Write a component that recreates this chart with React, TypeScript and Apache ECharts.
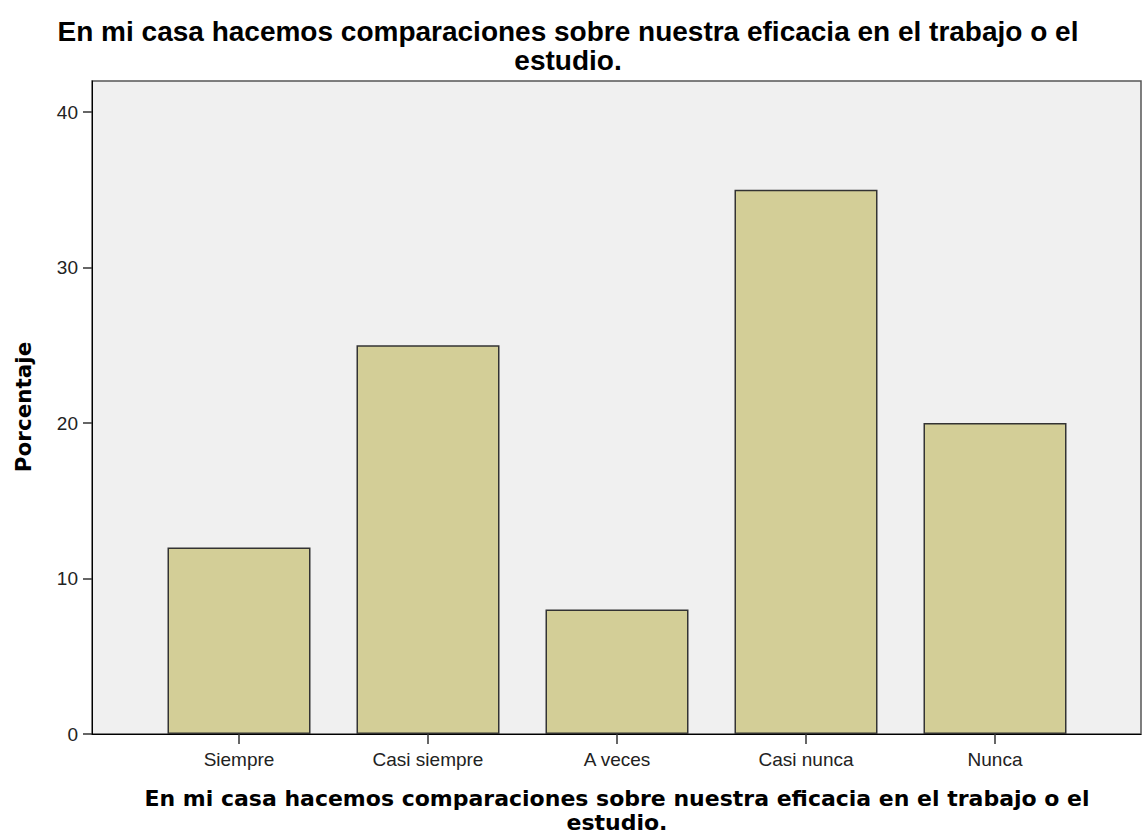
import React, { useEffect, useRef } from "react";
import * as echarts from "echarts";

const categories = ["Siempre", "Casi siempre", "A veces", "Casi nunca", "Nunca"];
const percentages = [12, 25, 8, 35, 20];
const yMin = 0;
const yMax = 42;
const yInterval = 10;
const chartTitle = "En mi casa hacemos comparaciones sobre nuestra eficacia en el trabajo o el\nestudio.";
const xTitle = "En mi casa hacemos comparaciones sobre nuestra eficacia en el trabajo o el\nestudio.";
const yTitle = "Porcentaje";

export default function App() {
  const ref = useRef<HTMLDivElement>(null);
  useEffect(() => {
    if (!ref.current) return;
    const chart = echarts.init(ref.current, null, { renderer: "svg" });
    const labelColor = "#222";
    chart.setOption({
      animation: false,
      backgroundColor: "#ffffff",
      grid: [
        {
          left: 92,
          right: 1,
          top: 81,
          bottom: 101,
          show: true,
          backgroundColor: "#f0f0f0",
          borderColor: "#555",
          borderWidth: 1.5,
        },
        {
          left: 144.5,
          right: 52.5,
          top: 81,
          bottom: 101,
        },
      ],
      xAxis: [
        {
          gridIndex: 0,
          type: "value",
          min: 0,
          max: 1,
          axisLine: { show: true, lineStyle: { color: "#000", width: 1 } },
          axisTick: { show: false },
          axisLabel: { show: false },
          splitLine: { show: false },
        },
        {
          gridIndex: 1,
          type: "category",
          data: categories,
          boundaryGap: true,
          axisLine: { show: false },
          axisTick: {
            show: true,
            alignWithLabel: true,
            length: 10,
            lineStyle: { color: "#333", width: 1.5 },
          },
          axisLabel: {
            color: labelColor,
            fontFamily: "Liberation Sans, Arial, sans-serif",
            fontSize: 19,
            margin: 16,
          },
        },
      ],
      yAxis: [
        {
          gridIndex: 0,
          type: "value",
          min: yMin,
          max: yMax,
          interval: yInterval,
          axisLine: { show: true, lineStyle: { color: "#000", width: 1 } },
          axisTick: { show: true, length: 9, lineStyle: { color: "#333", width: 1.5 } },
          axisLabel: {
            color: labelColor,
            fontFamily: "Liberation Sans, Arial, sans-serif",
            fontSize: 19,
            margin: 14,
            showMaxLabel: false,
          },
          splitLine: { show: false },
        },
        {
          gridIndex: 1,
          type: "value",
          min: yMin,
          max: yMax,
          interval: yInterval,
          show: false,
          splitLine: { show: false },
        },
      ],
      series: [
        {
          type: "bar",
          xAxisIndex: 1,
          yAxisIndex: 1,
          data: percentages,
          barWidth: 143,
          itemStyle: {
            color: "#d3ce97",
            borderColor: "#333",
            borderWidth: 1.5,
          },
        },
      ],
      graphic: [
        {
          type: "text",
          x: 568,
          y: 17,
          style: {
            text: chartTitle,
            fontFamily: "Liberation Sans, Arial, sans-serif",
            fontWeight: "bold",
            fontSize: 28,
            lineHeight: 29,
            fill: "#000",
            textAlign: "center",
            textVerticalAlign: "top",
          },
        },
        {
          type: "text",
          x: 617,
          y: 786,
          style: {
            text: xTitle,
            fontFamily: "DejaVu Sans, Verdana, sans-serif",
            fontWeight: "bold",
            fontSize: 22,
            lineHeight: 24,
            fill: "#000",
            textAlign: "center",
            textVerticalAlign: "top",
          },
        },
        {
          type: "text",
          x: 23,
          y: 407,
          rotation: Math.PI / 2,
          style: {
            text: yTitle,
            fontFamily: "DejaVu Sans, Verdana, sans-serif",
            fontWeight: "bold",
            fontSize: 21.5,
            fill: "#000",
            textAlign: "center",
            textVerticalAlign: "middle",
          },
        },
      ],
    });
    return () => chart.dispose();
  }, []);
  return (
    <div
      ref={ref}
      style={{ position: "absolute", left: 0, top: 0, width: 1142, height: 835 }}
    />
  );
}
